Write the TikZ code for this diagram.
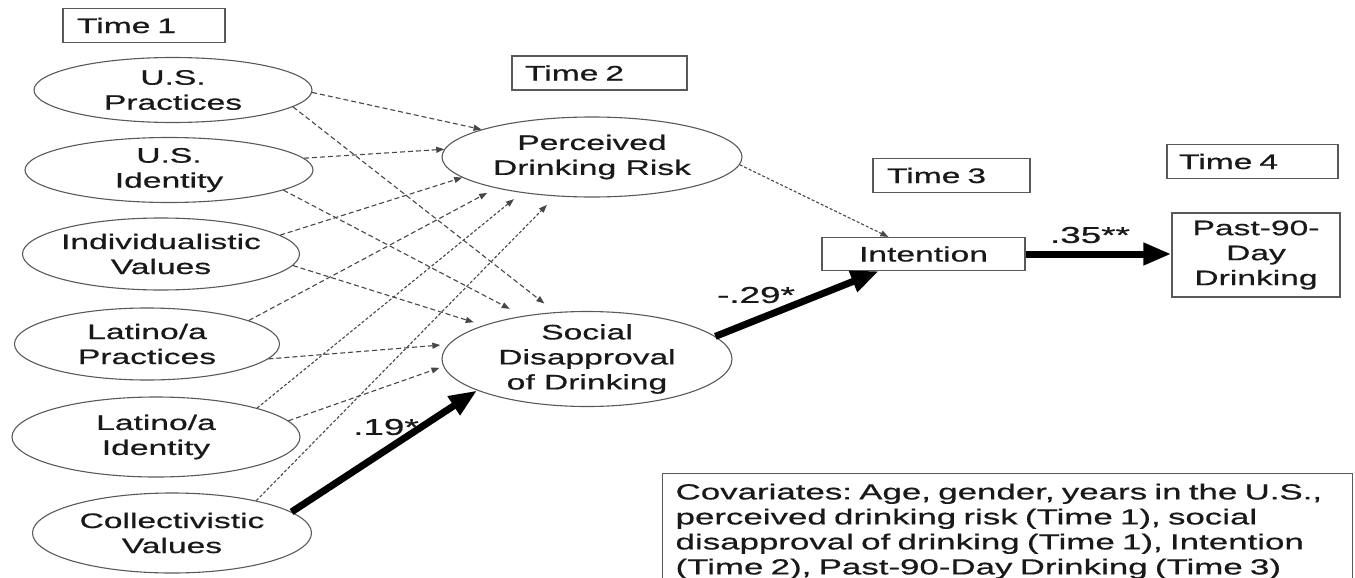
\documentclass[tikz,border=0pt]{standalone}
\usepackage{fontspec}
\setmainfont[FakeStretch=1.6,FakeBold=0.6]{Liberation Sans}
\usetikzlibrary{arrows.meta,shapes.geometric}
\frenchspacing
\begin{document}
\begin{tikzpicture}[x=1pt,y=-1pt,
  every node/.style={font=\fontsize{21}{25}\selectfont, text=black!90},
  ell/.style={ellipse, draw=black!65, line width=1.1pt, inner sep=0pt},
  txt/.style={align=center, inner sep=0pt},
  tbox/.style={draw=black!65, line width=1.2pt, align=left, inner ysep=0pt, minimum height=34pt},
  rbox/.style={draw=black!65, line width=1.2pt, align=center, inner sep=0pt},
  dsh/.style={draw=black!72, line width=1.1pt, dash pattern=on 5pt off 3pt, -{Triangle[length=8pt,width=6pt]}},
  dot/.style={draw=black!72, line width=1.1pt, dash pattern=on 3pt off 2pt, -{Triangle[length=8pt,width=6pt]}},
  thick arrow/.style={draw=black, line width=7pt, -{Triangle[length=28pt,width=21pt]}},
  lbl/.style={inner sep=0pt, font=\fontsize{23}{27}\selectfont}
]
\useasboundingbox (0,0) rectangle (1355,578);

% Time boxes
\node[tbox, inner xsep=14pt, text width=134pt] (t1) at (144,25.5) {Time 1};
\node[tbox, inner xsep=13pt, text width=149pt] (t2) at (599.5,73) {Time 2};
\node[tbox, inner xsep=14pt, text width=129pt] (t3) at (951.5,175.5) {Time 3};
\node[tbox, inner xsep=12pt, text width=147pt] (t4) at (1252.5,161.5) {Time 4};

% Time 1 ellipses
\node[ell, minimum width=278pt, minimum height=65pt] (usp) at (173,90) {};
\node[txt] (uspt) at (usp) {U.S.\\Practices};
\node[ell, minimum width=288pt, minimum height=65pt] (usi) at (169,170) {};
\node[txt] (usit) at (usi) {U.S.\\Identity};
\node[ell, minimum width=277pt, minimum height=72pt] (ind) at (161,254) {};
\node[txt] (indt) at (ind) {Individualistic\\Values};
\node[ell, minimum width=265pt, minimum height=72pt] (lap) at (147,344) {};
\node[txt] (lapt) at (lap) {Latino/a\\Practices};
\node[ell, minimum width=288pt, minimum height=80pt] (lai) at (156,437) {};
\node[txt] (lait) at (lai) {Latino/a\\Identity};
\node[ell, minimum width=279pt, minimum height=80pt] (col) at (172,533) {};
\node[txt] (colt) at (col) {Collectivistic\\Values};

% Time 2 ellipses
\node[ell, minimum width=300pt, minimum height=80pt] (pdr) at (592,157) {};
\node[txt] (pdrt) at (pdr) {Perceived\\Drinking Risk};
\node[ell, minimum width=290pt, minimum height=95pt] (sdd) at (587,359) {};
\node[txt] (sddt) at (sdd) {Social\\Disapproval\\of Drinking};

% Time 3 / 4 boxes
\node[rbox, minimum width=203pt, minimum height=33pt] (int) at (923.5,254) {Intention};
\node[rbox, minimum width=168pt, minimum height=84pt] (past) at (1256,255) {Past-90-\\Day\\Drinking};

% Covariates
\node[draw=black!65, line width=1.2pt, anchor=north west, align=left,
      inner xsep=13pt, inner ysep=10pt, text width=664pt,
      font=\fontsize{21.8}{25}\selectfont] (cov) at (662,473)
  {Covariates: Age, gender, years in the U.S.,\\
   perceived drinking risk (Time 1), social\\
   disapproval of drinking (Time 1), Intention\\
   (Time 2), Past-90-Day Drinking (Time 3)};

% dashed paths
\draw[dsh] (usp.-1) -- (pdr.166);
\draw[dsh, shorten >=14pt] (usp.-8) -- (sdd.124);
\draw[dsh] (usi.5) -- (pdr.177);
\draw[dsh, shorten >=15pt] (usi.-10) -- (sdd.146);
\draw[dsh] (ind.9) -- (pdr.189);
\draw[dsh, shorten >=10pt] (ind.-5) -- (sdd.162);
\draw[dsh, shorten >=10pt] (lap.13) -- (pdr.198);
\draw[dsh, shorten >=8pt] (lap.-7) -- (sdd.174);
\draw[dot, shorten >=10pt] (lai.16) -- (pdr.207);
\draw[dsh, shorten >=4pt] (lai.7) -- (sdd.183);
\draw[dot, shorten >=12pt] (col.21) -- (pdr.227);
\draw[dot] (pdr.-3) -- (int.154);

% significant paths
\draw[thick arrow] (col.10) -- (sdd.196);
\draw[thick arrow] (sdd.10) -- (int.201);
\draw[thick arrow] (int.east) -- (int.east -| past.west);

% labels
\node[lbl] (l19) at (386,427) {.19*};
\node[lbl] (l29) at (756,295) {-.29*};
\node[lbl] (l35) at (1090,235) {.35**};
\end{tikzpicture}
\end{document}
